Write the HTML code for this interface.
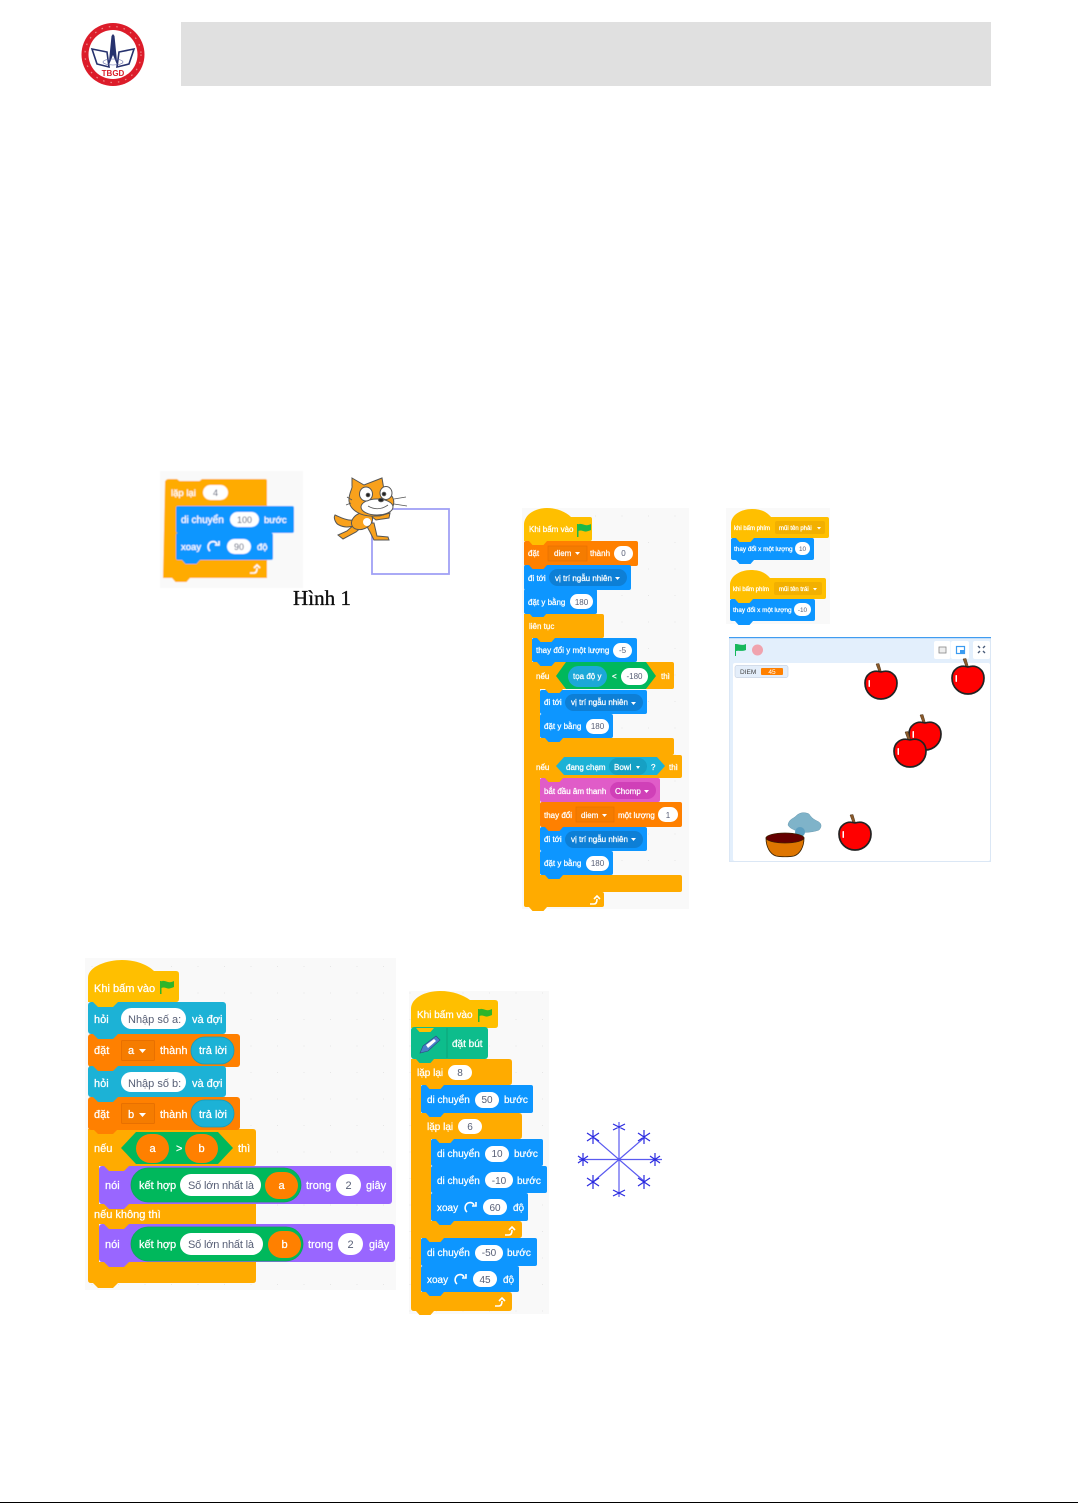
<!DOCTYPE html>
<html><head><meta charset="utf-8"><title>Scratch</title>
<style>
html,body{margin:0;padding:0;background:#fff;width:1078px;height:1503px;overflow:hidden}
svg{display:block;font-family:"Liberation Sans","Noto Sans CJK SC",sans-serif}
.w{fill:#fff;stroke:#fff;stroke-width:.25}
.g{fill:#575e75}
.m{text-anchor:middle}
</style></head><body>
<svg width="1078" height="1503" viewBox="0 0 1078 1503" xmlns="http://www.w3.org/2000/svg">
<defs>
<filter id="b" x="-5%" y="-5%" width="110%" height="110%"><feGaussianBlur stdDeviation="0.3"/></filter>
<filter id="b2" x="-5%" y="-5%" width="110%" height="110%"><feGaussianBlur stdDeviation="0.6"/></filter>
<pattern id="d" width="26.5" height="26.5" patternUnits="userSpaceOnUse"><rect x="12" y="12" width="1" height="1" fill="#e6e6e6"/></pattern>
<path id="n" d="M0 0l5 5h15l5-5z"/>
<path id="s" d="M0 0l3.5 4h11l3.5-4z"/>
<path id="f" d="M0 0v13h1.5V7c3-1.5 5 1 8 .5 2-.4 3.500-1 4.500-1.500V0c-2 1-4 1.500-6 1C5.500 .3 3 -.8 1.500 .5V0z"/>
<g id="a"><path d="M-2-13l-3-8 3-.5 2.500 8.500z" fill="#8a5a2b" stroke="#4d331a" stroke-width=".5"/><path d="M0-13C9-16 16-10 16-2 16 7 9 14 0 14-9 14-16 7-16-2-16-10-9-16 0-13z" fill="#f00" stroke="#222" stroke-width="1.700"/><rect x="-12.500" y="-5" width="1.500" height="7" rx=".7" fill="#fff"/></g>
<path id="r" d="M-4 4a5.500 5.500 0 0 1 1-9c3-1 5 0 6 2M5 -6v4h-4" fill="none" stroke="#fff" stroke-width="1.600"/>
<path id="l" d="M-5 4h4c2 0 3-2 3-5M-1 -1l3-3 3 3" fill="none" stroke="#fff" stroke-width="1.600"/>
</defs>

<!-- header -->
<rect x="181" y="22" width="810" height="64" fill="#e0e0e0"/>
<g filter="url(#b)">
<circle cx="113" cy="54.500" r="31.500" fill="#dc1f2b"/>
<circle cx="113" cy="54.500" r="24.500" fill="#fff"/>
<circle cx="113" cy="54.500" r="28" fill="none" stroke="#ee8a8a" stroke-width="1.200" stroke-dasharray="1.500 6"/>
<path d="M92 49l15 3 2 15-12-3zM134 49l-15 3-2 15 12-3z" fill="#fff" stroke="#27306e" stroke-width="1.600"/>
<path d="M111.500 36l1.500-2 1.500 2 3 30-4.500-11-4.500 11z" fill="#27306e"/>
<ellipse cx="113" cy="62" rx="10" ry="3" fill="none" stroke="#5a62a0" stroke-width=".6"/>
<text x="113" y="76" class="m" font-size="8" font-weight="bold" fill="#d91f2a">TBGD</text>
</g>

<!-- panel 1 -->
<g filter="url(#b2)">
<rect x="160" y="471" width="143" height="117" fill="#f9f9f9"/>
<path d="M165 483q0-4 4-4h8l5 4h15l5-4h63q2 0 2 2v95q0 2-2 2h-102z" fill="#ffab00"/>
<path d="M165 481h102v24h-91v55h91v18h-102z" fill="#ffab00"/>
<use href="#s" x="176" y="505" fill="#ffab00"/>
<use href="#s" x="176" y="578" fill="#ffab00" transform="translate(-4 0)"/>
<rect x="176" y="506" width="118" height="27" rx="2" fill="#0b96ff"/>
<rect x="176" y="533" width="97" height="27" rx="2" fill="#0b96ff"/>
<use href="#s" x="182" y="560" fill="#0b96ff"/>
<text x="171" y="496" font-size="9.500" class="w">lặp lại</text>
<rect x="203" y="485" width="25" height="15" rx="7.500" fill="#fff"/><text x="215.500" y="496" font-size="9" class="g m">4</text>
<text x="181" y="523" font-size="10" class="w">di chuyển</text>
<rect x="230" y="512" width="29" height="15" rx="7.500" fill="#fff"/><text x="244.500" y="523" font-size="9" class="g m">100</text>
<text x="264" y="523" font-size="9.500" class="w">bước</text>
<text x="181" y="550" font-size="9.500" class="w">xoay</text>
<use href="#r" x="214" y="547"/>
<rect x="227" y="539" width="24" height="15" rx="7.500" fill="#fff"/><text x="239" y="550" font-size="9" class="g m">90</text>
<text x="257" y="550" font-size="9.500" class="w">độ</text>
<use href="#l" x="255" y="569"/>
</g>
<text x="293" y="605" font-family="Liberation Serif,serif" font-size="21" textLength="58" fill="#111" stroke="#111" stroke-width=".35" filter="url(#b)">Hình 1</text>

<!-- cat and square -->
<rect x="372" y="509" width="77" height="65" fill="#fff" stroke="#a0a0f5" stroke-width="1.800"/>
<g stroke="#555" stroke-width="1" filter="url(#b)">
<path d="M352 520c-6 1-14-4-17-5-2 3 1 9 4 10 6 3 10 2 15 1z" fill="#f9a11b"/>
<path d="M356 523l-9 8-9 4 5 4 13-7 7-6z" fill="#f9a11b"/>
<path d="M365 523l5 9 4 8 15 0-1-3-11-1-3-13z" fill="#f9a11b"/>
<path d="M367 513l16 2 7-2-1 5-13 2z" fill="#f9a11b"/>
<ellipse cx="362" cy="521" rx="11" ry="8" fill="#f9a11b" transform="rotate(-25 362 521)"/>
<ellipse cx="367" cy="522" rx="4" ry="4" fill="#fff" stroke="none"/>
<path d="M352 478l12 7 18-7 2 12 6 4c9 8 1 23-15 22-14 1-25-6-26-15-.5-8 4-13 3-15z" fill="#f9a11b"/>
<ellipse cx="377" cy="507" rx="16" ry="8" fill="#fff"/>
<ellipse cx="366" cy="494" rx="6.500" ry="7" fill="#fff"/>
<ellipse cx="386" cy="493" rx="6" ry="6.500" fill="#fff"/>
<circle cx="368" cy="495" r="1.800" fill="#222"/>
<circle cx="384" cy="494" r="1.800" fill="#222"/>
<ellipse cx="381" cy="500" rx="2.500" ry="1.700" fill="#222"/>
<path d="M368 506q10 6 20-1M394 499l12-2M394 504l13 2M352 500l-5-3M351 503l-5 2" fill="none" stroke-width=".8"/>
</g>

<!-- panel 2 -->
<g filter="url(#b)">
<rect x="522" y="508" width="167" height="401" fill="#f9f9f9"/>
<rect x="522" y="508" width="167" height="401" fill="url(#d)"/>
<path d="M524 541V525C524 514 536 508 547 508 557 508 566 512 571 517H590q2 0 2 2V539q0 2-2 2z" fill="#ffbf00"/>
<path d="M524 614H602q2 0 2 2V636q0 2-2 2H532V892H602q2 0 2 2v11q0 2-2 2H526q-2 0-2-2z" fill="#ffab00"/>
<path d="M532 662H672q2 0 2 2V687q0 2-2 2H540V738H672q2 0 2 2V753q0 2-2 2H532z" fill="#ffab00"/>
<path d="M532 755H680q2 0 2 2V776q0 2-2 2H540V875H680q2 0 2 2V890q0 2-2 2H532z" fill="#ffab00"/>
<rect x="524" y="541" width="114" height="25" rx="2" fill="#ff8000"/>
<rect x="524" y="565" width="107" height="25" rx="2" fill="#0b96ff"/>
<rect x="524" y="589" width="73" height="25" rx="2" fill="#0b96ff"/>
<rect x="532" y="638" width="105" height="24" rx="2" fill="#0b96ff"/>
<rect x="540" y="690" width="107" height="24" rx="2" fill="#0b96ff"/>
<rect x="540" y="714" width="73" height="24" rx="2" fill="#0b96ff"/>
<rect x="540" y="778" width="120" height="24" rx="2" fill="#e05bc8"/>
<rect x="540" y="802" width="142" height="25" rx="2" fill="#ff8000"/>
<rect x="540" y="827" width="107" height="24" rx="2" fill="#0b96ff"/>
<rect x="540" y="851" width="73" height="24" rx="2" fill="#0b96ff"/>
<use href="#s" x="529" y="541" fill="#ffbf00"/><use href="#s" x="529" y="565" fill="#ff8000"/><use href="#s" x="529" y="589" fill="#0b96ff"/><use href="#s" x="529" y="613" fill="#0b96ff"/>
<use href="#s" x="537" y="638" fill="#ffab00"/><use href="#s" x="537" y="662" fill="#0b96ff"/><use href="#s" x="545" y="689" fill="#ffab00"/><use href="#s" x="545" y="714" fill="#0b96ff"/><use href="#s" x="545" y="738" fill="#0b96ff"/>
<use href="#s" x="545" y="778" fill="#ffab00"/><use href="#s" x="545" y="827" fill="#ff8000"/><use href="#s" x="545" y="851" fill="#0b96ff"/><use href="#s" x="545" y="875" fill="#0b96ff"/><use href="#s" x="529" y="907" fill="#ffab00"/>
<g font-size="8">
<text x="529" y="532" class="w">Khi bấm vào</text><use href="#f" x="577" y="524" fill="#1fb84a"/>
<text x="528" y="556" class="w">đặt</text><rect x="548" y="546" width="39" height="15" fill="#f57c00" stroke="#e86f00" stroke-width=".7"/><text x="554" y="556" class="w">diem</text><path d="M575 552h5l-2.500 3z" fill="#fff"/><text x="590" y="556" class="w">thành</text><rect x="614" y="546" width="19" height="15" rx="7.500" fill="#fff"/><text x="623.500" y="556" class="g m">0</text>
<text x="528" y="581" class="w">đi tới</text><rect x="549" y="569" width="78" height="17" rx="8.500" fill="#0b7fd6"/><text x="555" y="581" class="w">vị trí ngẫu nhiên</text><path d="M615 577h5l-2.500 3z" fill="#fff"/>
<text x="528" y="605" class="w">đặt y bằng</text><rect x="570" y="594" width="23" height="15" rx="7.500" fill="#fff"/><text x="581.500" y="605" class="g m">180</text>
<text x="529" y="629" class="w">liên tục</text>
<text x="536" y="653" class="w">thay đổi y một lượng</text><rect x="613" y="643" width="19" height="15" rx="7.500" fill="#fff"/><text x="622.500" y="653" class="g m">-5</text>
<text x="536" y="679" class="w">nếu</text><path d="M556 676l10-14h80l10 14-10 13h-80z" fill="#00b85c"/><rect x="568" y="666" width="39" height="21" rx="10.500" fill="#1fa8d8"/><text x="573" y="679" class="w">tọa độ y</text><text x="612" y="679" class="w">&lt;</text><rect x="621" y="668" width="27" height="17" rx="8.500" fill="#fff"/><text x="634.500" y="679" class="g m">-180</text><text x="661" y="679" class="w">thì</text>
<text x="544" y="705" class="w">đi tới</text><rect x="565" y="694" width="78" height="17" rx="8.500" fill="#0b7fd6"/><text x="571" y="705" class="w">vị trí ngẫu nhiên</text><path d="M631 702h5l-2.500 3z" fill="#fff"/>
<text x="544" y="729" class="w">đặt y bằng</text><rect x="586" y="719" width="23" height="15" rx="7.500" fill="#fff"/><text x="597.500" y="729" class="g m">180</text>
<text x="536" y="770" class="w">nếu</text><path d="M556 766l8-9h93l8 9-8 9h-93z" fill="#1eb2d6"/><text x="566" y="770" class="w">đang chạm</text><rect x="609" y="758" width="38" height="17" rx="8.500" fill="#12a0c4"/><text x="614" y="770" class="w">Bowl</text><path d="M636 766h4l-2 3z" fill="#fff"/><text x="651" y="770" class="w">?</text><text x="669" y="770" class="w">thì</text>
<text x="544" y="794" class="w">bắt đầu âm thanh</text><rect x="610" y="782" width="46" height="17" rx="8.500" fill="#d03fb8"/><text x="615" y="794" class="w">Chomp</text><path d="M644 790h5l-2.500 3z" fill="#fff"/>
<text x="544" y="818" class="w">thay đổi</text><rect x="576" y="807" width="38" height="15" fill="#f57c00" stroke="#e86f00" stroke-width=".7"/><text x="581" y="818" class="w">diem</text><path d="M602 814h5l-2.500 3z" fill="#fff"/><text x="618" y="818" class="w">một lượng</text><rect x="658" y="807" width="20" height="15" rx="7.500" fill="#fff"/><text x="668" y="818" class="g m">1</text>
<text x="544" y="842" class="w">đi tới</text><rect x="565" y="831" width="78" height="17" rx="8.500" fill="#0b7fd6"/><text x="571" y="842" class="w">vị trí ngẫu nhiên</text><path d="M631 838h5l-2.500 3z" fill="#fff"/>
<text x="544" y="866" class="w">đặt y bằng</text><rect x="586" y="856" width="23" height="15" rx="7.500" fill="#fff"/><text x="597.500" y="866" class="g m">180</text>
</g>
<use href="#l" x="595" y="900"/>
</g>

<!-- panel 4 -->
<g filter="url(#b)">
<rect x="726" y="508" width="104" height="116" fill="#f9f9f9"/>
<path d="M731 538V524C731 515 741 509 752 509 761 509 767 512 771 517H827q2 0 2 2V536q0 2-2 2z" fill="#ffbf00"/>
<rect x="731" y="538" width="83" height="22" rx="2" fill="#0b96ff"/><use href="#s" x="736" y="538" fill="#ffbf00"/><use href="#s" x="736" y="560" fill="#0b96ff"/>
<path d="M730 599V585C730 576 740 570 751 570 760 570 766 573 770 578H824q2 0 2 2V597q0 2-2 2z" fill="#ffbf00"/>
<rect x="730" y="599" width="85" height="22" rx="2" fill="#0b96ff"/><use href="#s" x="735" y="599" fill="#ffbf00"/><use href="#s" x="735" y="621" fill="#0b96ff"/>
<g font-size="6.400">
<rect x="775" y="521" width="50" height="13" rx="2" fill="#f2b000"/>
<text x="734" y="530" class="w" font-size="6">khi bấm phím</text><text x="779" y="530" class="w" font-size="6">mũi tên phải</text><path d="M817 527h4l-2 2.500z" fill="#fff"/>
<text x="734" y="551" class="w">thay đổi x một lượng</text><rect x="795" y="542" width="15" height="13" rx="6.500" fill="#fff"/><text x="802.500" y="551" class="g m">10</text>
<rect x="774" y="582" width="48" height="13" rx="2" fill="#f2b000"/>
<text x="733" y="591" class="w" font-size="6">khi bấm phím</text><text x="779" y="591" class="w" font-size="6">mũi tên trái</text><path d="M813 588h4l-2 2.500z" fill="#fff"/>
<text x="733" y="612" class="w">thay đổi x một lượng</text><rect x="794" y="603" width="17" height="13" rx="6.500" fill="#fff"/><text x="802.500" y="612" class="g m">-10</text>
</g>
<!-- stage -->
<rect x="729.500" y="637.500" width="261" height="224" fill="#e3effc" stroke="#dbe7f5"/>
<rect x="729" y="637" width="262" height="1.200" fill="#3f9cf0"/>
<rect x="733" y="663" width="257" height="198" rx="2" fill="#fff"/>
<path d="M735 645v11h1v-5c3-1 5 1 10-1v-6c-4 2-7 0-10 0h-1z" fill="#12b85c"/>
<circle cx="757.500" cy="650" r="5.500" fill="#f0a3ae"/>
<rect x="934" y="641" width="16.500" height="18" rx="2" fill="#fff"/><rect x="951" y="641" width="18" height="18" rx="2" fill="#fff"/><rect x="973" y="641" width="17" height="18" rx="2" fill="#fff"/>
<rect x="939" y="647" width="7" height="6" fill="#eee" stroke="#888" stroke-width=".8"/><rect x="956.500" y="646.500" width="8" height="7" fill="#fff" stroke="#3a9bf0" stroke-width="1.200"/><rect x="960" y="650" width="4" height="3" fill="#3a9bf0"/>
<path d="M978 646l2 2M985 646l-2 2M978 653l2-2M985 653l-2-2" stroke="#4a5a78" stroke-width="1.400"/>
<rect x="735" y="665.500" width="53" height="12" rx="2" fill="#e4eefa" stroke="#c8d4e4" stroke-width=".7"/>
<text x="740" y="674" font-size="6.500" fill="#444">DIEM</text><rect x="761" y="668" width="22" height="7" rx="1" fill="#ff8000"/><text x="772" y="674" font-size="6.500" fill="#fff" class="m">45</text>
<use href="#a" x="881" y="685"/><use href="#a" x="968" y="680"/><use href="#a" x="925" y="736"/><use href="#a" x="910" y="753"/><use href="#a" x="855" y="836"/>
<path d="M788 825c1-6 5-6 8-9 4-4 9-4 13-2 2 3 4 5 8 7 5 2 5 6 2 9-5 2-14 3-21 2-4-3-8-3-10-7z" fill="#7fb3c9" stroke="#6a9ab0" stroke-width=".5"/>
<ellipse cx="800" cy="832" rx="5" ry="5" fill="#5d9fc0"/>
<path d="M766 838c8 3 30 3 38 0 0 9-4 16-10 18-5 1-13 1-18 0-6-2-10-9-10-18z" fill="#de7500" stroke="#3a2200" stroke-width=".8"/>
<ellipse cx="785" cy="838" rx="19" ry="5" fill="#650000" stroke="#3a2200" stroke-width=".7"/>
</g>

<!-- panel 3 -->
<g filter="url(#b)">
<rect x="85" y="958" width="311" height="332" fill="#f9f9f9"/>
<rect x="85" y="958" width="311" height="332" fill="url(#d)"/>
<path d="M88 1002V978C88 966 108 960 122 960 136 960 148 965 154 971H176q3 0 3 3V999q0 3-3 3z" fill="#ffbf00"/>
<path d="M88 1129H253q3 0 3 3V1163q0 3-3 3H99V1204H256V1224H99V1262H256V1280q0 3-3 3H91q-3 0-3-3z" fill="#ffab00"/>
<rect x="88" y="1002" width="138" height="32" rx="3" fill="#1eb2d6"/>
<rect x="88" y="1034" width="152" height="33" rx="3" fill="#ff8000"/>
<rect x="88" y="1066" width="138" height="31" rx="3" fill="#1eb2d6"/>
<rect x="88" y="1097" width="152" height="33" rx="3" fill="#ff8000"/>
<rect x="99" y="1166" width="293" height="38" rx="3" fill="#9966ff"/>
<rect x="99" y="1224" width="296" height="38" rx="3" fill="#9966ff"/>
<use href="#n" x="93" y="1002" fill="#ffbf00"/><use href="#n" x="93" y="1034" fill="#1eb2d6"/><use href="#n" x="93" y="1066" fill="#ff8000"/><use href="#n" x="93" y="1097" fill="#1eb2d6"/><use href="#n" x="93" y="1129" fill="#ff8000"/>
<use href="#n" x="104" y="1166" fill="#ffab00"/><use href="#n" x="104" y="1224" fill="#ffab00"/><use href="#n" x="104" y="1204" fill="#9966ff"/><use href="#n" x="104" y="1262" fill="#9966ff"/><use href="#n" x="93" y="1283" fill="#ffab00"/>
<g font-size="11">
<text x="94" y="992" class="w">Khi bấm vào</text><use href="#f" x="160" y="981" fill="#2fb52c"/>
<text x="94" y="1023" class="w">hỏi</text><rect x="121" y="1008" width="65" height="21" rx="10.500" fill="#fff"/><text x="128" y="1023" class="g">Nhập số a:</text><text x="192" y="1023" class="w">và đợi</text>
<text x="94" y="1054" class="w">đặt</text><rect x="121.500" y="1040.500" width="33" height="20" rx="1" fill="#f57c00" stroke="#e86f00"/><text x="128" y="1054" class="w">a</text><path d="M139 1049h7l-3.500 4z" fill="#fff"/><text x="160" y="1054" class="w">thành</text><rect x="191" y="1037" width="43" height="27" rx="13.500" fill="#1eb2d6" stroke="#139cbc" stroke-width=".8"/><text x="199" y="1054" class="w">trả lời</text>
<text x="94" y="1087" class="w">hỏi</text><rect x="121" y="1072" width="65" height="20" rx="10" fill="#fff"/><text x="128" y="1087" class="g">Nhập số b:</text><text x="192" y="1087" class="w">và đợi</text>
<text x="94" y="1118" class="w">đặt</text><rect x="121.500" y="1103.500" width="33" height="20" rx="1" fill="#f57c00" stroke="#e86f00"/><text x="128" y="1118" class="w">b</text><path d="M139 1113h7l-3.500 4z" fill="#fff"/><text x="160" y="1118" class="w">thành</text><rect x="191" y="1100" width="43" height="27" rx="13.500" fill="#1eb2d6" stroke="#139cbc" stroke-width=".8"/><text x="199" y="1118" class="w">trả lời</text>
<text x="94" y="1152" class="w">nếu</text><path d="M121 1148l15-16h82l15 16-15 16h-82z" fill="#00b85c"/><rect x="136" y="1134" width="33" height="29" rx="14.500" fill="#ff8000"/><text x="152.500" y="1152" class="w m">a</text><text x="176" y="1152" class="w">&gt;</text><rect x="185" y="1134" width="33" height="29" rx="14.500" fill="#ff8000"/><text x="201.500" y="1152" class="w m">b</text><text x="238" y="1152" class="w">thì</text>
<text x="105" y="1189" class="w">nói</text><rect x="131" y="1168" width="170" height="34" rx="17" fill="#00b85c" stroke="#0fa35a" stroke-width=".8"/><text x="139" y="1189" class="w">kết hợp</text><rect x="180" y="1174" width="81" height="22" rx="11" fill="#fff"/><text x="188" y="1189" class="g" textLength="66">Số lớn nhất là</text><rect x="265" y="1172" width="33" height="27" rx="13.500" fill="#ff8000"/><text x="281.500" y="1189" class="w m">a</text><text x="306" y="1189" class="w">trong</text><rect x="336" y="1174" width="25" height="22" rx="11" fill="#fff"/><text x="348.500" y="1189" class="g m">2</text><text x="366" y="1189" class="w">giây</text>
<text x="94" y="1218" class="w">nếu không thì</text>
<text x="105" y="1248" class="w">nói</text><rect x="131" y="1227" width="172" height="34" rx="17" fill="#00b85c" stroke="#0fa35a" stroke-width=".8"/><text x="139" y="1248" class="w">kết hợp</text><rect x="180" y="1233" width="83" height="22" rx="11" fill="#fff"/><text x="188" y="1248" class="g" textLength="66">Số lớn nhất là</text><rect x="268" y="1231" width="33" height="27" rx="13.500" fill="#ff8000"/><text x="284.500" y="1248" class="w m">b</text><text x="308" y="1248" class="w">trong</text><rect x="338" y="1233" width="25" height="22" rx="11" fill="#fff"/><text x="350.500" y="1248" class="g m">2</text><text x="369" y="1248" class="w">giây</text>
</g>
</g>

<!-- panel 5 -->
<g filter="url(#b)">
<rect x="409" y="991" width="140" height="323" fill="#f9f9f9"/>
<rect x="409" y="991" width="140" height="323" fill="url(#d)"/>
<path d="M411 1028V1009C411 998 425 991 440 991 453 991 463 995 470 1000H495q3 0 3 3V1025q0 3-3 3z" fill="#ffbf00"/>
<rect x="411" y="1027" width="77" height="32" rx="3" fill="#0fbd8c"/>
<path d="M447 1028v30" stroke="#0b9e75" stroke-width=".8"/>
<path d="M420 1053l3-7 13-10 4 4-12 11z" fill="#4a7fc9" stroke="#2c4a80" stroke-width=".6"/><path d="M426 1045l8-6 2 2-8 7z" fill="#fff"/>
<path d="M411 1059H509q3 0 3 3V1082q0 3-3 3H421V1292H509q3 0 3 3V1308q0 3-3 3H414q-3 0-3-3z" fill="#ffab00"/>
<path d="M421 1113H519q3 0 3 3V1136q0 3-3 3H431V1221H519q3 0 3 3V1235q0 3-3 3H421z" fill="#ffab00"/>
<rect x="421" y="1085" width="112" height="28" rx="2" fill="#0b96ff"/>
<rect x="431" y="1139" width="112" height="27" rx="2" fill="#0b96ff"/>
<rect x="431" y="1166" width="116" height="27" rx="2" fill="#0b96ff"/>
<rect x="431" y="1193" width="97" height="28" rx="2" fill="#0b96ff"/>
<rect x="421" y="1238" width="116" height="28" rx="2" fill="#0b96ff"/>
<rect x="421" y="1266" width="98" height="26" rx="2" fill="#0b96ff"/>
<use href="#s" x="416" y="1028" fill="#ffbf00"/><use href="#s" x="416" y="1059" fill="#0fbd8c"/><use href="#s" x="426" y="1085" fill="#ffab00"/><use href="#s" x="426" y="1113" fill="#0b96ff"/><use href="#s" x="436" y="1139" fill="#ffab00"/><use href="#s" x="436" y="1221" fill="#0b96ff"/><use href="#s" x="426" y="1238" fill="#ffab00"/><use href="#s" x="426" y="1292" fill="#0b96ff"/><use href="#s" x="416" y="1311" fill="#ffab00"/>
<g font-size="10">
<text x="417" y="1018" class="w">Khi bấm vào</text><use href="#f" x="478" y="1009" fill="#2fb52c"/>
<text x="452" y="1047" class="w">đặt bút</text>
<text x="417" y="1076" class="w">lặp lại</text><rect x="448" y="1065" width="24" height="15" rx="7.500" fill="#fff"/><text x="460" y="1076" class="g m">8</text>
<text x="427" y="1103" class="w">di chuyển</text><rect x="475" y="1092" width="24" height="16" rx="8" fill="#fff"/><text x="487" y="1103" class="g m">50</text><text x="504" y="1103" class="w">bước</text>
<text x="427" y="1130" class="w">lặp lại</text><rect x="458" y="1119" width="24" height="15" rx="7.500" fill="#fff"/><text x="470" y="1130" class="g m">6</text>
<text x="437" y="1157" class="w">di chuyển</text><rect x="485" y="1146" width="24" height="16" rx="8" fill="#fff"/><text x="497" y="1157" class="g m">10</text><text x="514" y="1157" class="w">bước</text>
<text x="437" y="1184" class="w">di chuyển</text><rect x="485" y="1172" width="28" height="16" rx="8" fill="#fff"/><text x="499" y="1184" class="g m">-10</text><text x="517" y="1184" class="w">bước</text>
<text x="437" y="1211" class="w">xoay</text><use href="#r" x="471" y="1208"/><rect x="483" y="1199" width="24" height="16" rx="8" fill="#fff"/><text x="495" y="1211" class="g m">60</text><text x="513" y="1211" class="w">độ</text>
<use href="#l" x="510" y="1231"/>
<text x="427" y="1256" class="w">di chuyển</text><rect x="475" y="1245" width="28" height="16" rx="8" fill="#fff"/><text x="489" y="1256" class="g m">-50</text><text x="507" y="1256" class="w">bước</text>
<text x="427" y="1283" class="w">xoay</text><use href="#r" x="461" y="1280"/><rect x="473" y="1271" width="24" height="16" rx="8" fill="#fff"/><text x="485" y="1283" class="g m">45</text><text x="503" y="1283" class="w">độ</text>
<use href="#l" x="500" y="1302"/>
</g>
</g>

<!-- star -->
<g stroke="#5a5af0" stroke-width="1.200" fill="none" filter="url(#b)">
<path d="M619 1122v75M579 1159.500h83M593 1137l52 45M645 1137l-52 45"/>
<path d="M613 1124l12 6M625 1124l-12 6M613 1190l12 6M625 1190l-12 6M583 1153v13M578 1156l10 7M588 1156l-10 7M655 1153v13M650 1156l10 7M660 1156l-10 7M593 1130v14M587 1133l12 8M599 1133l-12 8M644 1130v14M638 1133l12 8M650 1133l-12 8M593 1175v14M587 1178l12 8M599 1178l-12 8M644 1175v14M638 1178l12 8M650 1178l-12 8" stroke="#2c2ce0"/>
</g>

<rect x="0" y="1502" width="1078" height="1" fill="#000"/>
</svg>
</body></html>
